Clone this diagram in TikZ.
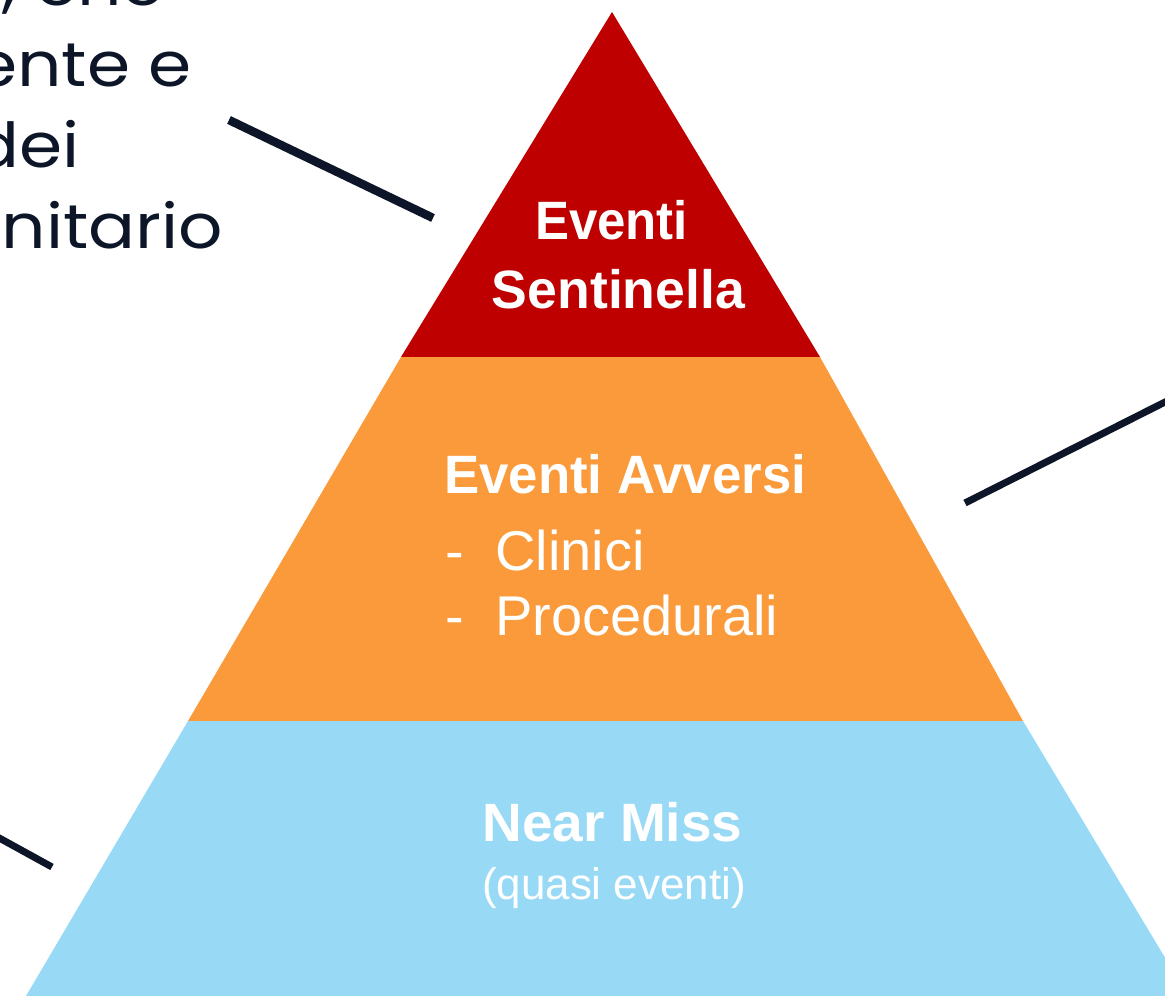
\documentclass[tikz,border=0pt]{standalone}
\usepackage{fontspec}
\usepackage{graphicx}
\setmainfont{Liberation Sans}
\newfontfamily\capfont{Poppins}
\definecolor{navy}{HTML}{0C1628}
\definecolor{topred}{HTML}{BE0000}
\definecolor{midorange}{HTML}{FA9A3A}
\definecolor{lowblue}{HTML}{98DAF6}
\newcommand\wfit[2]{\resizebox{#1}{\height}{#2}}
\begin{document}
\begin{tikzpicture}[x=1pt,y=-1pt,
  sidetext/.style={anchor=base east,inner sep=0pt,text=navy,font=\capfont\fontsize{62}{62}\selectfont},
  headtext/.style={anchor=base,inner sep=0pt,text=white,font=\bfseries\fontsize{54}{54}\selectfont},
  itemtext/.style={anchor=base west,inner sep=0pt,text=white,font=\fontsize{56}{56}\selectfont},
  leader/.style={draw=navy,line width=7pt}]
\useasboundingbox (0,0) rectangle (1165,996);
\clip (0,0) rectangle (1165,996);
% pyramid layers
\fill[topred] (612,12) -- (401,357) -- (820,357) -- cycle;
\fill[midorange] (401,357) -- (820,357) -- (1023,721) -- (188,721) -- cycle;
\fill[lowblue] (188,721) -- (1023,721) -- (1188,996) -- (26,996) -- cycle;
% texts in pyramid
\node[headtext] (ev1) at (611.5,239) {\wfit{153pt}{Eventi}};
\node[headtext] (ev2) at (618.5,308) {\wfit{253pt}{Sentinella}};
\node[headtext,anchor=base west] (eva) at (444,493) {\wfit{362pt}{Eventi Avversi}};
\node[itemtext] (d1) at (445.5,570) {-};
\node[itemtext] (cl) at (495,570) {Clinici};
\node[itemtext] (d2) at (445.5,635) {-};
\node[itemtext] (pr) at (495,635) {Procedurali};
\node[headtext] (nm) at (612.5,841) {\wfit{260pt}{Near Miss}};
\node[anchor=base,inner sep=0pt,text=white,font=\fontsize{44}{44}\selectfont] (qe) at (614,899) {\wfit{264pt}{(quasi eventi)}};
% side text (cut at the left edge, as in the reference)
\node[sidetext] (t1) at (165,5) {\scalebox{1.12}[1]{a, che}};
\node[sidetext] (t2) at (192,86) {\scalebox{1.12}[1]{ente e}};
\node[sidetext] (t3) at (80,167) {\scalebox{1.12}[1]{dei}};
\node[sidetext] (t4) at (223,248) {\scalebox{1.12}[1]{nitario}};
% leader lines
\coordinate (l1a) at (229,120);
\coordinate (l1b) at (433,218);
\coordinate (l2a) at (965,503);
\coordinate (l2b) at (1175,397);
\coordinate (l3a) at (-8,834);
\coordinate (l3b) at (52,867);
\draw[leader,line width=8.5pt] (l1a) -- (l1b);
\draw[leader] (l2a) -- (l2b);
\draw[leader] (l3a) -- (l3b);
\end{tikzpicture}
\end{document}
